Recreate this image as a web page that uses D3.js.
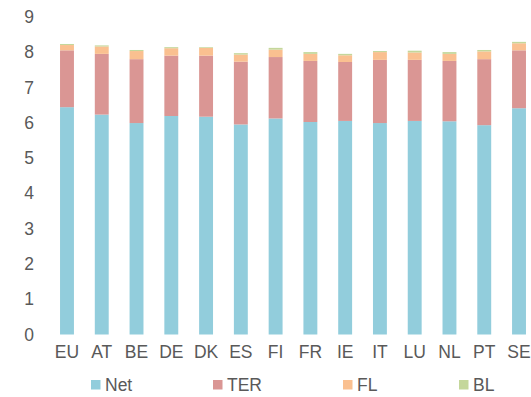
<!DOCTYPE html>
<html>
<head>
<meta charset="utf-8">
<script src="https://cdn.jsdelivr.net/npm/d3@7"></script>
<style>
  html, body { margin: 0; padding: 0; background: #fff; }
  svg { display: block; font-family: "Liberation Sans", Arial, sans-serif; }
</style>
</head>
<body>
<svg id="chart" width="531" height="397"></svg>
<script>
// Countries along the x axis
const countries = ["EU", "AT", "BE", "DE", "DK", "ES", "FI", "FR", "IE", "IT", "LU", "NL", "PT", "SE"];

// Stacked components per country
const netValues = [6.44, 6.23, 5.99, 6.19, 6.17, 5.95, 6.12, 6.02, 6.05, 5.99, 6.05, 6.04, 5.93, 6.41];
const terValues = [1.61, 1.72, 1.81, 1.71, 1.73, 1.78, 1.74, 1.73, 1.67, 1.79, 1.73, 1.71, 1.87, 1.64];
const flValues  = [0.15, 0.21, 0.23, 0.21, 0.22, 0.20, 0.21, 0.20, 0.19, 0.22, 0.21, 0.20, 0.22, 0.20];
const blValues  = [0.03, 0.03, 0.03, 0.03, 0.02, 0.04, 0.05, 0.05, 0.04, 0.03, 0.05, 0.05, 0.04, 0.04];

const seriesNames = ["Net", "TER", "FL", "BL"];
const seriesColors = ["#92CDDC", "#DA9694", "#FAC090", "#C4D79B"];
const yTicks = [0, 1, 2, 3, 4, 5, 6, 7, 8, 9];

const rows = countries.map((c, i) => ({
  country: c,
  Net: netValues[i],
  TER: terValues[i],
  FL: flValues[i],
  BL: blValues[i]
}));

const svg = d3.select("#chart");
const textColor = "#595959";
const fontSize = 17.5;

const x = d3.scaleBand()
  .domain(countries)
  .range([49.6, 536.4])
  .paddingInner(0.6)
  .paddingOuter(0.3);

const y = d3.scaleLinear()
  .domain([0, 9])
  .range([334.5, 16.8]);

const stacked = d3.stack().keys(seriesNames)(rows);
const color = d3.scaleOrdinal().domain(seriesNames).range(seriesColors);

// Stacked bars
svg.append("g")
  .selectAll("g")
  .data(stacked)
  .join("g")
  .attr("fill", d => color(d.key))
  .selectAll("rect")
  .data(d => d)
  .join("rect")
  .attr("x", d => x(d.data.country))
  .attr("width", x.bandwidth())
  .attr("y", d => y(d[1]))
  .attr("height", d => y(d[0]) - y(d[1]));

// Y axis (labels only)
const yAxis = svg.append("g")
  .attr("transform", "translate(34,0)")
  .call(d3.axisLeft(y).tickValues(yTicks).tickSize(0).tickPadding(0).tickFormat(d3.format("d")));
yAxis.select(".domain").remove();
yAxis.selectAll("text")
  .attr("fill", textColor)
  .attr("font-size", fontSize)
  .attr("font-family", "Liberation Sans, Arial, sans-serif");

// X axis (labels only)
const xAxis = svg.append("g")
  .attr("transform", "translate(0,334.5)")
  .call(d3.axisBottom(x).tickSize(0).tickPadding(11));
xAxis.select(".domain").remove();
xAxis.selectAll("text")
  .attr("fill", textColor)
  .attr("font-size", fontSize)
  .attr("font-family", "Liberation Sans, Arial, sans-serif");

// Legend
const legendX = [91, 213, 343, 459];
const legend = svg.append("g")
  .selectAll("g")
  .data(seriesNames)
  .join("g")
  .attr("transform", (d, i) => `translate(${legendX[i]},380)`);
legend.append("rect")
  .attr("width", 9.5)
  .attr("height", 9.5)
  .attr("fill", d => color(d));
legend.append("text")
  .attr("x", 14)
  .attr("y", 10.8)
  .attr("fill", textColor)
  .attr("font-size", fontSize)
  .text(d => d);
</script>
</body>
</html>
